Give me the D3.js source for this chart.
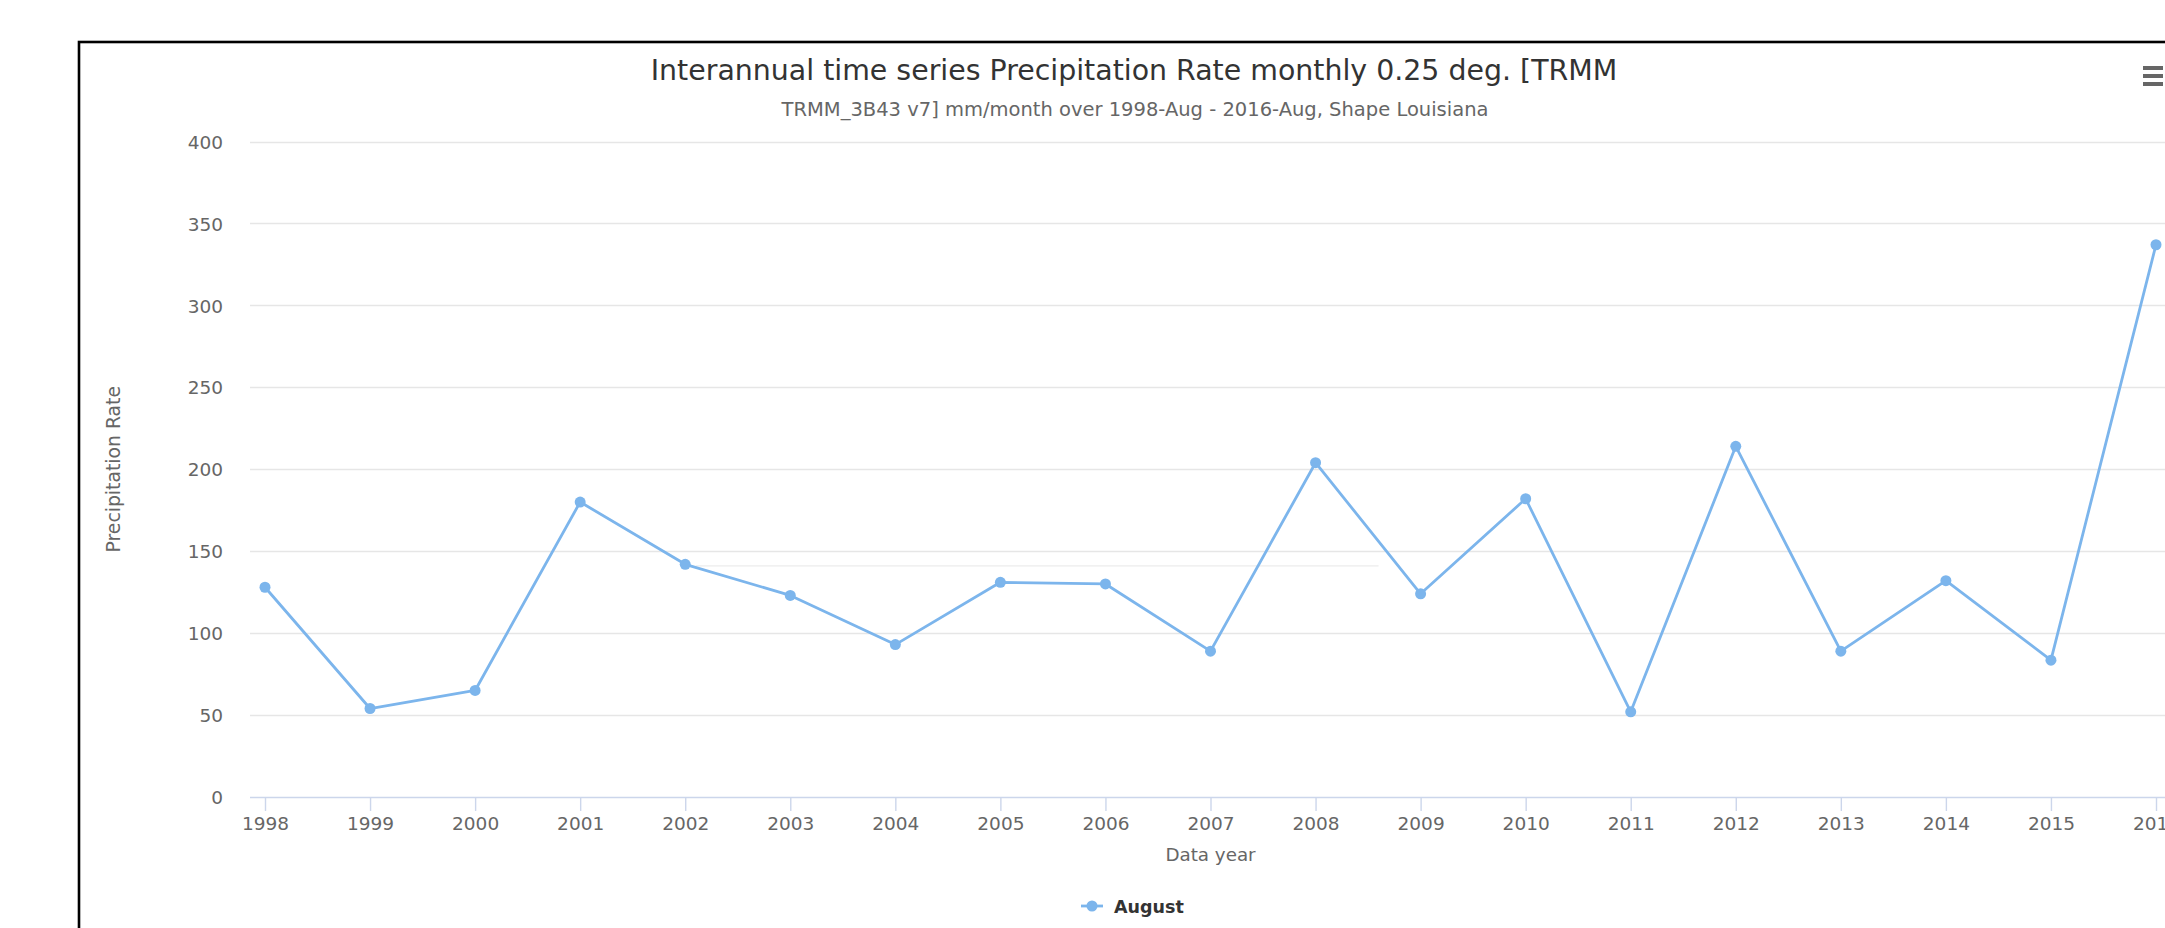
<!DOCTYPE html>
<html>
<head>
<meta charset="utf-8">
<script src="https://cdn.jsdelivr.net/npm/d3@7/dist/d3.min.js"></script>
<style>
  html, body { margin: 0; padding: 0; background: #ffffff; overflow: hidden; }
  svg { display: block; }
  text { font-family: "DejaVu Sans", Verdana, sans-serif; }
</style>
</head>
<body>
<svg id="chart" width="2165" height="928"></svg>
<script>
// ---- data ----
const years = [1998, 1999, 2000, 2001, 2002, 2003, 2004, 2005, 2006, 2007, 2008, 2009, 2010, 2011, 2012, 2013, 2014, 2015, 2016];
const august = [128, 54, 65, 180, 142, 123, 93, 131, 130, 89, 204, 124, 182, 52, 214, 89, 132, 83.5, 337];
const yTicks = [0, 50, 100, 150, 200, 250, 300, 350, 400];
const seriesName = "August";
const titleText = "Interannual time series Precipitation Rate monthly 0.25 deg. [TRMM";
const subtitleText = "TRMM_3B43 v7] mm/month over 1998-Aug - 2016-Aug, Shape Louisiana";
const xAxisTitle = "Data year";
const yAxisTitle = "Precipitation Rate";
// faint stray line visible in the source picture (value, start year, end year)
const strayLine = [141, 2002.1, 2008.6];

// ---- layout ----
const svg = d3.select("#chart");
const chartLeft = 80, chartTop = 43, chartCenter = 1134;
const plotLeft = 250, plotRight = 2171, plotTop = 141.5, plotBottom = 797;
const pad = 15;
const color = "#7cb5ec";
const labelSize = 18.5;

const x = d3.scaleLinear().domain([years[0], years[years.length - 1]]).range([plotLeft + pad, plotRight - pad]);
const y = d3.scaleLinear().domain([0, 400]).range([plotBottom, plotTop]);

// chart border (container extends past the captured window)
svg.append("rect")
  .attr("x", chartLeft - 1).attr("y", chartTop - 1)
  .attr("width", 2400).attr("height", 1200)
  .attr("fill", "#ffffff").attr("stroke", "#000000").attr("stroke-width", 2.6);

// title & subtitle
function fitText(sel, target) {
  const w = sel.node().getComputedTextLength();
  const fs = parseFloat(sel.attr("font-size"));
  sel.attr("font-size", (fs * target / w).toFixed(2));
}
const title = svg.append("text")
  .attr("x", chartCenter).attr("y", 80)
  .attr("text-anchor", "middle")
  .attr("font-size", 25).attr("fill", "#333333")
  .text(titleText);
fitText(title, 967);

const subtitle = svg.append("text")
  .attr("x", chartCenter + 1).attr("y", 116)
  .attr("text-anchor", "middle")
  .attr("font-size", 16.5).attr("fill", "#666666")
  .text(subtitleText);
fitText(subtitle, 707);

// gridlines
const grid = svg.append("g");
grid.selectAll("line").data(yTicks).enter().append("line")
  .attr("x1", plotLeft).attr("x2", plotRight)
  .attr("y1", d => Math.round(y(d)) + 0.5).attr("y2", d => Math.round(y(d)) + 0.5)
  .attr("stroke", d => d === 0 ? "none" : "#e6e6e6").attr("stroke-width", 1.4);

svg.append("line")
  .attr("x1", x(strayLine[1])).attr("x2", x(strayLine[2]))
  .attr("y1", y(strayLine[0])).attr("y2", y(strayLine[0]))
  .attr("stroke", "#ececec").attr("stroke-width", 1.2);

// y axis labels
const yAxis = d3.axisLeft(y).tickValues(yTicks).tickSize(0).tickPadding(0);
const yg = svg.append("g").attr("transform", `translate(${223},0)`).call(yAxis);
yg.select(".domain").remove();
yg.selectAll("text")
  .attr("font-size", labelSize).attr("fill", "#666666")
  .attr("font-family", "DejaVu Sans, Verdana, sans-serif")
  .attr("dy", "0.36em");

// y axis title
svg.append("text")
  .attr("transform", `translate(120,${(plotTop + plotBottom) / 2}) rotate(-90)`)
  .attr("text-anchor", "middle")
  .attr("font-size", 18.8).attr("fill", "#666666")
  .text(yAxisTitle);

// x axis
svg.append("line")
  .attr("x1", plotLeft).attr("x2", plotRight)
  .attr("y1", plotBottom + 0.5).attr("y2", plotBottom + 0.5)
  .attr("stroke", "#ccd6eb").attr("stroke-width", 1.4);
const xAxis = d3.axisBottom(x).tickValues(years).tickFormat(d3.format("d")).tickSize(14).tickPadding(6);
const xg = svg.append("g").attr("transform", `translate(0,${plotBottom})`).call(xAxis);
xg.select(".domain").remove();
xg.selectAll(".tick line").attr("stroke", "#ccd6eb").attr("stroke-width", 1.4);
xg.selectAll("text")
  .attr("font-size", labelSize).attr("fill", "#666666")
  .attr("font-family", "DejaVu Sans, Verdana, sans-serif");

svg.append("text")
  .attr("x", x(2007)).attr("y", 861)
  .attr("text-anchor", "middle")
  .attr("font-size", 18.3).attr("fill", "#666666")
  .text(xAxisTitle);

// series
const pts = years.map((yr, i) => [yr, august[i]]);
svg.append("path")
  .datum(pts)
  .attr("fill", "none").attr("stroke", color).attr("stroke-width", 2.8)
  .attr("stroke-linejoin", "round")
  .attr("d", d3.line().x(d => x(d[0])).y(d => y(d[1])));
svg.append("g").selectAll("circle").data(pts).enter().append("circle")
  .attr("cx", d => x(d[0])).attr("cy", d => y(d[1])).attr("r", 5.5)
  .attr("fill", color);

// legend
const lg = svg.append("g").attr("transform", `translate(1081,906)`);
lg.append("line").attr("x1", 0).attr("x2", 22).attr("y1", 0).attr("y2", 0)
  .attr("stroke", color).attr("stroke-width", 2.8);
lg.append("circle").attr("cx", 11).attr("cy", 0).attr("r", 5.5).attr("fill", color);
lg.append("text").attr("x", 33).attr("y", 6.5)
  .attr("font-size", 17.5).attr("font-weight", "bold").attr("fill", "#333333")
  .text(seriesName);

// export menu button
const mb = svg.append("g").attr("transform", "translate(2143,0)");
[68, 76, 84].forEach(yy => {
  mb.append("line").attr("x1", 0).attr("x2", 20).attr("y1", yy).attr("y2", yy)
    .attr("stroke", "#666666").attr("stroke-width", 4);
});
</script>
</body>
</html>
